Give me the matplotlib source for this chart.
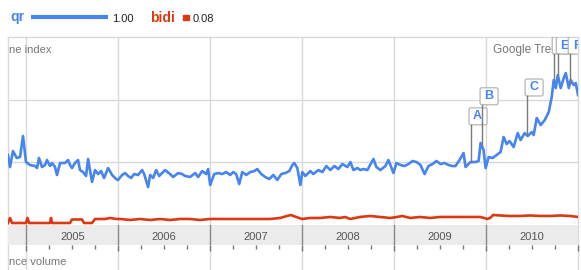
import numpy as np
import matplotlib
matplotlib.use('Agg')
import matplotlib.pyplot as plt
from matplotlib.patches import FancyBboxPatch, Rectangle
from matplotlib.lines import Line2D

plt.rcParams['font.family'] = ['Liberation Sans', 'DejaVu Sans']

# search volume index (decimal year, value)
qr_t = [2004.800, 2004.822, 2004.854, 2004.895, 2004.931, 2004.963, 2004.996, 2005.039, 2005.094, 2005.116,
        2005.137, 2005.170, 2005.203, 2005.224, 2005.257, 2005.279, 2005.311, 2005.333, 2005.366, 2005.420,
        2005.453, 2005.475, 2005.496, 2005.529, 2005.562, 2005.583, 2005.616, 2005.649, 2005.671, 2005.714,
        2005.747, 2005.780, 2005.812, 2005.845, 2005.889, 2005.932, 2005.976, 2005.997, 2006.041, 2006.074,
        2006.106, 2006.139, 2006.172, 2006.215, 2006.259, 2006.281, 2006.324, 2006.346, 2006.379, 2006.411,
        2006.444, 2006.487, 2006.509, 2006.563, 2006.596, 2006.651, 2006.694, 2006.727, 2006.781, 2006.836,
        2006.868, 2006.912, 2006.955, 2006.977, 2006.999, 2007.043, 2007.086, 2007.130, 2007.173, 2007.217,
        2007.250, 2007.282, 2007.315, 2007.348, 2007.391, 2007.435, 2007.479, 2007.511, 2007.555, 2007.598,
        2007.642, 2007.686, 2007.729, 2007.773, 2007.816, 2007.860, 2007.893, 2007.914, 2007.947, 2007.980,
        2008.002, 2008.034, 2008.089, 2008.121, 2008.176, 2008.219, 2008.263, 2008.306, 2008.350, 2008.393,
        2008.437, 2008.491, 2008.524, 2008.557, 2008.600, 2008.633, 2008.666, 2008.709, 2008.775, 2008.807,
        2008.851, 2008.905, 2008.938, 2008.993, 2009.025, 2009.069, 2009.113, 2009.156, 2009.200, 2009.243,
        2009.287, 2009.331, 2009.374, 2009.418, 2009.461, 2009.505, 2009.548, 2009.592, 2009.635, 2009.668,
        2009.711, 2009.755, 2009.777, 2009.831, 2009.886, 2009.919, 2009.941, 2009.973, 2009.995, 2010.028,
        2010.071, 2010.115, 2010.158, 2010.191, 2010.224, 2010.256, 2010.300, 2010.344, 2010.376, 2010.420,
        2010.453, 2010.496, 2010.518, 2010.551, 2010.594, 2010.638, 2010.682, 2010.714, 2010.736, 2010.758,
        2010.780, 2010.812, 2010.845, 2010.867, 2010.900, 2010.921, 2010.954, 2010.976, 2011.000]
qr_v = [1.117, 0.925, 1.180, 1.069, 1.085, 1.420, 1.005, 0.957, 0.941, 0.909,
        1.069, 0.925, 0.957, 1.037, 0.941, 0.989, 0.925, 0.798, 0.989, 0.989,
        1.037, 0.957, 0.909, 0.989, 1.037, 0.877, 0.845, 0.782, 1.053, 0.686,
        0.877, 0.813, 0.861, 0.750, 0.909, 0.798, 0.734, 0.718, 0.798, 0.829,
        0.782, 0.750, 0.813, 0.798, 0.877, 0.813, 0.606, 0.798, 0.750, 0.877,
        0.782, 0.845, 0.877, 0.813, 0.766, 0.829, 0.813, 0.782, 0.766, 0.829,
        0.766, 0.861, 0.813, 0.893, 0.638, 0.813, 0.829, 0.813, 0.845, 0.798,
        0.845, 0.813, 0.654, 0.845, 0.798, 0.845, 0.861, 0.893, 0.813, 0.766,
        0.734, 0.798, 0.718, 0.813, 0.829, 0.861, 0.957, 0.989, 0.909, 0.638,
        0.845, 0.782, 0.861, 0.813, 0.877, 0.845, 0.941, 0.877, 0.941, 0.893,
        0.973, 0.925, 1.005, 0.877, 0.909, 0.877, 0.893, 0.877, 1.053, 0.925,
        0.877, 0.941, 1.037, 0.829, 0.989, 0.957, 0.941, 0.973, 1.021, 1.005,
        0.957, 0.813, 0.941, 0.973, 1.021, 0.973, 0.989, 0.957, 0.941, 0.941,
        1.037, 1.148, 0.925, 1.005, 1.005, 1.021, 1.308, 1.196, 0.909, 1.085,
        1.069, 1.117, 1.164, 1.404, 1.292, 1.340, 1.244, 1.467, 1.356, 1.467,
        1.420, 1.483, 1.436, 1.707, 1.595, 1.675, 1.802, 2.042, 2.313, 2.185,
        2.393, 2.185, 2.345, 2.424, 2.185, 2.313, 2.233, 2.265, 2.074]

bidi_t = [2004.800, 2004.822, 2004.844, 2004.996, 2005.012, 2005.029, 2005.257, 2005.268, 2005.279, 2005.475,
          2005.496, 2005.605, 2005.627, 2005.714, 2005.747, 2005.856, 2005.910, 2005.976, 2006.019, 2006.128,
          2006.236, 2006.345, 2006.454, 2006.563, 2006.672, 2006.780, 2006.889, 2006.998, 2007.107, 2007.216,
          2007.324, 2007.433, 2007.542, 2007.651, 2007.760, 2007.836, 2007.879, 2007.934, 2007.999, 2008.086,
          2008.195, 2008.304, 2008.412, 2008.467, 2008.521, 2008.576, 2008.630, 2008.739, 2008.848, 2008.957,
          2009.033, 2009.087, 2009.174, 2009.283, 2009.392, 2009.501, 2009.718, 2009.827, 2009.936, 2009.979,
          2010.012, 2010.044, 2010.077, 2010.153, 2010.262, 2010.371, 2010.480, 2010.589, 2010.697, 2010.806,
          2010.915, 2011.000]
bidi_v = [0.032, 0.112, 0.032, 0.032, 0.112, 0.032, 0.032, 0.112, 0.032, 0.032,
          0.088, 0.088, 0.032, 0.032, 0.096, 0.096, 0.112, 0.096, 0.096, 0.080,
          0.096, 0.080, 0.096, 0.080, 0.096, 0.096, 0.080, 0.096, 0.096, 0.096,
          0.096, 0.096, 0.096, 0.096, 0.112, 0.144, 0.160, 0.128, 0.096, 0.112,
          0.112, 0.128, 0.112, 0.128, 0.096, 0.112, 0.128, 0.144, 0.128, 0.112,
          0.128, 0.144, 0.112, 0.128, 0.112, 0.128, 0.128, 0.128, 0.128, 0.112,
          0.096, 0.112, 0.160, 0.152, 0.144, 0.144, 0.152, 0.144, 0.144, 0.152,
          0.144, 0.128]

qr_avg = 1.00
bidi_avg = 0.08

years = [2005, 2006, 2007, 2008, 2009, 2010]
flag_labels = ['A', 'B', 'C', 'D', 'E', 'F']
flag_t = [2009.831, 2009.951, 2010.441, 2010.736, 2010.780, 2010.910]
# flags whose letter is hidden behind the next box in the screenshot
flag_hidden = ['D']

BLUE = '#4684ee'
RED = '#dc3912'
GRID = '#d9d9d9'

W, H = 581, 270
X0, X1 = 2004.80, 2011.0

def fx(px):
    return px / W

def fy(px):
    return 1 - px / H

fig = plt.figure(figsize=(W / 100, H / 100), dpi=100)

# background: vertical year grid running the full height
bg = fig.add_axes([fx(8), 0, fx(578) - fx(8), fy(37)])
bg.set_xlim(X0, X1)
bg.set_ylim(0, 1)
bg.axis('off')
for y in years + [X0, X1]:
    bg.axvline(y, color=GRID, lw=1, clip_on=False)

# grey date band
band = fig.add_axes([fx(8), fy(245), fx(578) - fx(8), 20 / H])
band.set_facecolor('#ebebeb')
band.set_xlim(X0, X1)
band.set_yticks([])
for s in band.spines.values():
    s.set_visible(False)
band.set_xticks(years + [2011])
band.set_xticklabels([])
band.set_xticks([y + q for y in range(2004, 2011) for q in (0.25, 0.5, 0.75) if X0 < y + q < X1], minor=True)
band.tick_params(axis='x', which='major', length=4.5, width=1, color='#777')
band.tick_params(axis='x', which='minor', length=3, width=1, color='#777')
for y in years:
    band.axvline(y, color='#888', lw=1)
    band.text(y + 0.5, 0.42, str(y), ha='center', va='center', fontsize=8, color='#555')

# main plot
ax = fig.add_axes([fx(8), fy(225), fx(578) - fx(8), 188 / H])
ax.set_facecolor('none')
ax.set_xlim(X0, X1)
ax.set_ylim(0, 3)
ax.axis('off')
for v in (1, 2, 3):
    ax.axhline(v, color=GRID, lw=1, clip_on=False, zorder=0)

ax.plot(bidi_t, bidi_v, color=RED, lw=1.9, solid_joinstyle='round', zorder=3)
ax.plot(qr_t, qr_v, color=BLUE, lw=1.9, solid_joinstyle='round', zorder=3)

# event flags
px_x = (X1 - X0) / 570
px_y = 3 / 188
box_top = [1.87, 2.19, 2.33, 3.0, 3.0, 3.0]
stem_bottom = np.interp(flag_t, qr_t, qr_v)
for i, (lab, t) in enumerate(zip(flag_labels, flag_t)):
    top = box_top[i]
    bottom = top - 17 * px_y
    left = t - 1.5 * px_x
    box = FancyBboxPatch((left, bottom), 18 * px_x, 17 * px_y,
                         boxstyle='round,pad=0,rounding_size=%f' % (2 * px_x),
                         mutation_aspect=px_y / px_x,
                         fc='white', ec='#b5b5b5', lw=0.9, zorder=4 + i * 0.1)
    ax.add_patch(box)
    if lab not in flag_hidden:
        ax.text(left + 8.5 * px_x, bottom + 8.5 * px_y, lab, ha='center', va='center',
                color=BLUE, fontsize=9, fontweight='bold', zorder=4.05 + i * 0.1, clip_on=True)
    ax.plot([t, t], [stem_bottom[i], bottom], color='#7a7a7a', lw=1, zorder=5)

# labels (cropped at the edges in the original screenshot)
fig.text(fx(9), fy(53), 'ne index', fontsize=8, color='#777', va='baseline')
fig.text(fx(493), fy(52.5), 'Google Tre', fontsize=8.5, color='#777', va='baseline')
fig.text(fx(9), fy(265), 'nce volume', fontsize=8, color='#777', va='baseline')

# legend with bars proportional to the averages
bar_px = 77
fig.text(fx(10), fy(21.5), 'qr', color=BLUE, fontsize=10, fontweight='bold', va='baseline')
fig.add_artist(Line2D([fx(31), fx(31 + bar_px * qr_avg)], [fy(17.3)] * 2, color=BLUE, lw=3, solid_capstyle='butt'))
fig.text(fx(112), fy(21.5), '%.2f' % qr_avg, fontsize=8, color='#222', va='baseline')
fig.text(fx(150), fy(21.5), 'bidi', color=RED, fontsize=10, fontweight='bold', va='baseline')
fig.add_artist(Rectangle((fx(183), fy(20)), fx(bar_px * bidi_avg), 5 / H, color=RED))
fig.text(fx(193), fy(21.5), '%.2f' % bidi_avg, fontsize=8, color='#222', va='baseline')

fig.savefig('out.png', dpi=100)
